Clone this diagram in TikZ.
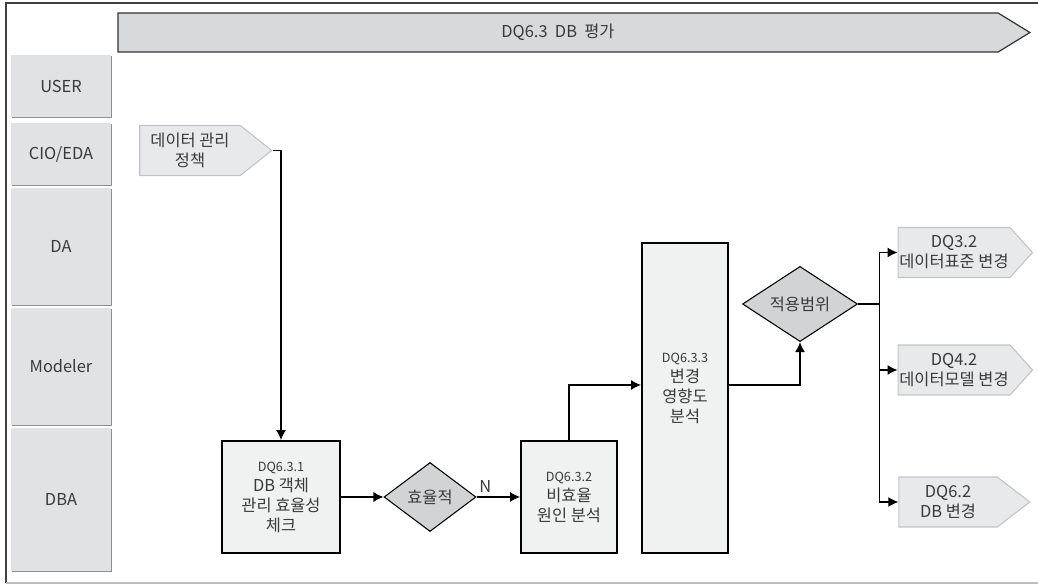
\documentclass[tikz,border=0pt]{standalone}
\usepackage{fontspec}
\setmainfont{Noto Sans CJK KR}
\usepackage{tikz}
\usetikzlibrary{positioning,shapes.geometric,shapes.symbols,arrows.meta,shadows,calc}
\usepackage{xcolor}
\definecolor{laneFill}{HTML}{E1E2E4}
\definecolor{laneShade}{HTML}{8E8F91}
\definecolor{headFill}{HTML}{D8D9DB}
\definecolor{tagFill}{HTML}{E8E9EA}
\definecolor{tagLine}{HTML}{C2C3C4}
\definecolor{procFill}{HTML}{F0F1F1}
\definecolor{decFill}{HTML}{D2D3D5}
\definecolor{inkGrey}{HTML}{3A3A3A}
\definecolor{frameGrey}{HTML}{BDBDBD}

\newcommand{\dqid}[1]{{\fontsize{9.5}{11}\selectfont #1}}

\begin{document}
\begin{tikzpicture}[x=0.75pt,y=-0.75pt,
  every node/.style={font=\fontsize{12.3}{15}\selectfont,text=inkGrey,align=center},
  lane/.style={fill=laneFill,minimum width=75pt,inner sep=0pt,
    drop shadow={shadow xshift=1.1pt,shadow yshift=-1.1pt,fill=laneShade,opacity=1}},
  tag/.style={signal,signal to=east,signal from=nowhere,draw=tagLine,fill=tagFill,
    line width=0.8pt,inner sep=1pt,minimum height=37.5pt},
  proc/.style={rectangle,draw=black,fill=procFill,line width=1.5pt,inner sep=1pt},
  dec/.style={diamond,draw=black,fill=decFill,line width=0.8pt,inner sep=0pt},
  flow/.style={-{Latex[length=7.5pt,width=7.5pt]},line width=0.8pt,black}]
\useasboundingbox (0,0) rectangle (1038,584);
% frame
\draw[line width=0.9pt,black!75] (1038,3) -- (6,3) -- (6,583);
\draw[line width=0.9pt,frameGrey] (6,583) -- (1038,583);
% lanes
\node[lane,minimum height=46.5pt] (user) at (61,86) {USER};
\node[lane,minimum height=46.5pt] (cio) at (61,154) {CIO/EDA};
\node[lane,minimum height=87.75pt] (da) at (61,246.5) {DA};
\node[lane,minimum height=87.75pt] (modeler) at (61,366.5) {Modeler};
\node[lane,minimum height=107.25pt] (dba) at (61,499.5) {DBA};
% header
\node[signal,signal to=east,signal from=nowhere,signal pointer angle=63,
  draw=black!80,fill=headFill,line width=0.9pt,minimum width=684pt,
  minimum height=29.25pt,inner sep=0pt] (head) at (558,32.5) {DQ6.3\ \ DB\ \ 평가};
% tags
\node[tag,signal pointer angle=77,minimum width=99pt] (policy) at (190,150.5) {데이터 관리\\정책};
\node[tag,signal pointer angle=96,minimum width=97.5pt] (dq32) at (954,252.5) {DQ3.2\\데이터표준 변경};
\node[tag,signal pointer angle=96,minimum width=97.5pt] (dq42) at (954,370) {DQ4.2\\데이터모델 변경};
\node[tag,signal pointer angle=75,minimum width=98.25pt] (dq62) at (948,502) {DQ6.2\\DB 변경};
% process steps
\node[proc,minimum width=88.5pt,minimum height=84pt] (check) at (281,497) {\dqid{DQ6.3.1}\\DB 객체\\관리 효율성\\체크};
\node[dec,minimum width=69pt,minimum height=51.75pt] (eff) at (430,497) {효율적};
\node[proc,minimum width=72pt,minimum height=84pt] (cause) at (569,497) {\dqid{DQ6.3.2}\\비효율\\원인 분석};
\node[proc,minimum width=64.5pt,minimum height=232.5pt,text depth=0pt] (impact) at (685,398) {\dqid{DQ6.3.3}\\변경\\영향도\\분석\\};
\node[dec,minimum width=86.25pt,minimum height=39pt] (scope) at (800,304) {적용범위};
% connectors
\draw[flow] (policy.east) -| (check.north);
\draw[flow] (check.east) -- (eff.west);
\draw[flow] (eff.east) -- node[above=3pt,pos=0.2,inner sep=0pt]{N} (cause.west);
\draw[flow] (cause.north) |- ([yshift=9.75pt]impact.west);
\draw[flow] ([yshift=9.75pt]impact.east) -| (scope.south);
\draw[line width=0.8pt] (scope.east) -- ++(21,0) coordinate (split);
\draw[flow] (split) |- (dq32.west);
\draw[flow] (split) |- (dq42.west);
\draw[flow] (split) |- (dq62.west);
\end{tikzpicture}
\end{document}
